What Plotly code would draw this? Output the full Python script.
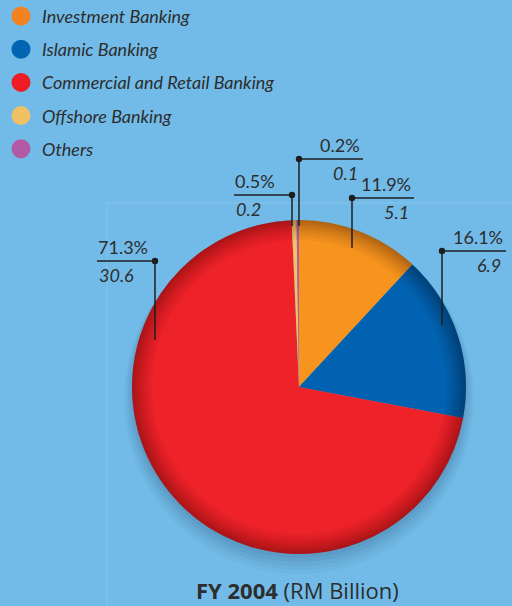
import plotly.graph_objects as go

# Segment data (RM billion, FY 2004)
segments = ["Investment Banking", "Islamic Banking", "Commercial and Retail Banking",
            "Offshore Banking", "Others"]
values = [5.1, 6.9, 30.6, 0.2, 0.1]
pct_labels = ["11.9%", "16.1%", "71.3%", "0.5%", "0.2%"]
value_labels = ["5.1", "6.9", "30.6", "0.2", "0.1"]
slice_colors = ["#f7941e", "#0062b0", "#ee2229", "#f2c265", "#b25aa3"]
legend_colors = ["#f58220", "#0066b3", "#ee1d23", "#f0c163", "#b35aa5"]

W, H = 512, 606
BG = "#72bbe8"
INK = "#2d2d2d"

# pie geometry in page pixels
CX, CY, R = 299, 387, 167


def px(x):
    return x / W


def py(y):
    return 1 - y / H


# callout geometry: dot (x, y), end of the horizontal rule, foot of the drop line
callouts = [
    dict(dot=(352, 198), end=414, foot=248),
    dict(dot=(442, 251), end=506, foot=325),
    dict(dot=(155, 261), end=97, foot=340),
    dict(dot=(292, 195), end=234, foot=226),
    dict(dot=(299, 159), end=363, foot=226),
]

fig = go.Figure()

fig.add_trace(go.Pie(
    labels=segments,
    values=values,
    sort=False,
    direction="clockwise",
    rotation=0,
    marker=dict(colors=slice_colors, line=dict(width=0)),
    textinfo="none",
    hoverinfo="label+value+percent",
    showlegend=False,
    domain=dict(x=[px(CX - R), px(CX + R)], y=[py(CY + R), py(CY - R)]),
))

shapes = []
annotations = []

# faint panel outline behind the chart
for x0, x1, y0, y1 in [(107, W, 203, 203), (107, 107, 203, H)]:
    shapes.append(dict(type="line", xref="paper", yref="paper", x0=px(x0), x1=px(x1),
                       y0=py(y0), y1=py(y1), line=dict(color="rgba(255,255,255,0.14)", width=1),
                       layer="below"))

# soft drop shadow, mostly below the pie
for grow, drop, alpha in [(8, 12, 0.035), (6, 10, 0.045), (4, 8, 0.055), (2, 6, 0.06), (0, 4, 0.06)]:
    shapes.append(dict(type="circle", xref="paper", yref="paper",
                       x0=px(CX - R - grow), x1=px(CX + R + grow),
                       y0=py(CY + R + grow + drop), y1=py(CY - R - grow + drop),
                       fillcolor=f"rgba(15,50,90,{alpha})", line=dict(width=0),
                       layer="below"))

# darkened rim for a rounded look
for w in [1.5, 3, 4.5, 6, 8, 10, 12, 14, 17, 20]:
    r = R - w / 2
    shapes.append(dict(type="circle", xref="paper", yref="paper",
                       x0=px(CX - r), x1=px(CX + r), y0=py(CY + r), y1=py(CY - r),
                       line=dict(color="rgba(40,0,0,0.035)", width=w),
                       fillcolor="rgba(0,0,0,0)", layer="above"))

# callouts
for c, pct, val in zip(callouts, pct_labels, value_labels):
    dx, dy = c["dot"]
    end = c["end"]
    shapes.append(dict(type="line", xref="paper", yref="paper",
                       x0=px(dx), x1=px(end), y0=py(dy), y1=py(dy),
                       line=dict(color="#1e1e1e", width=1.5), layer="above"))
    shapes.append(dict(type="line", xref="paper", yref="paper",
                       x0=px(dx), x1=px(dx), y0=py(dy), y1=py(c["foot"]),
                       line=dict(color="#1e1e1e", width=1.5), layer="above"))
    shapes.append(dict(type="circle", xref="paper", yref="paper",
                       x0=px(dx - 3.2), x1=px(dx + 3.2), y0=py(dy + 3.2), y1=py(dy - 3.2),
                       fillcolor="#1e1e1e", line=dict(width=0), layer="above"))
    right = end > dx
    anchor = "right" if right else "left"
    tx = end - 1
    annotations.append(dict(xref="paper", yref="paper", x=px(tx), y=py(dy - 1),
                            xanchor=anchor, yanchor="bottom", showarrow=False,
                            text=pct, font=dict(family="Lato", size=18, color=INK)))
    annotations.append(dict(xref="paper", yref="paper", x=px(tx - (2 if right else -1)), y=py(dy + 1),
                            xanchor=anchor, yanchor="top", showarrow=False,
                            text=f"<i>{val}</i>", font=dict(family="Lato", size=18, color=INK)))

# legend: round swatches with italic names
for i, (name, col) in enumerate(zip(segments, legend_colors)):
    yc = 16 + i * 33.2
    shapes.append(dict(type="circle", xref="paper", yref="paper",
                       x0=px(21 - 9.5), x1=px(21 + 9.5), y0=py(yc + 9.5), y1=py(yc - 9.5),
                       fillcolor=col, line=dict(width=0)))
    annotations.append(dict(xref="paper", yref="paper", x=px(40), y=py(yc),
                            xanchor="left", yanchor="middle", showarrow=False,
                            text=f"<i>{name}</i>",
                            font=dict(family="Lato", size=18, color=INK)))

# caption
annotations.append(dict(xref="paper", yref="paper", x=px(297), y=py(590),
                        xanchor="center", yanchor="middle", showarrow=False,
                        text="<b>FY 2004</b> (RM Billion)",
                        font=dict(family="Open Sans", size=22, color=INK)))

fig.update_layout(
    width=W, height=H,
    margin=dict(l=0, r=0, t=0, b=0),
    paper_bgcolor=BG,
    plot_bgcolor=BG,
    shapes=shapes,
    annotations=annotations,
)

fig.write_html("out.html")
